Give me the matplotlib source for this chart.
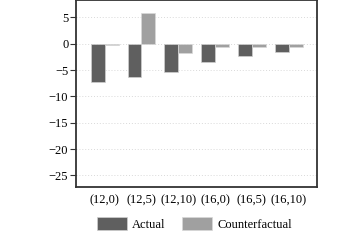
import numpy as np
import matplotlib.pyplot as plt
from matplotlib.patches import Patch

# ================= DATA =================

groups = ["(12,0)", "(12,5)", "(12,10)", "(16,0)", "(16,5)", "(16,10)"]
actual = [-7.3, -6.3, -5.4, -3.4, -2.4, -1.5]
counterfactual = [-0.2, 5.9, -1.75, -0.65, -0.7, -0.65]
yticks = [5, 0, -5, -10, -15, -20, -25]

# ================= STYLE =================

plt.rcParams["font.family"] = ["Liberation Serif", "DejaVu Serif"]
plt.rcParams["font.size"] = 9

dark = "#5f5f5f"
light = "#a0a0a0"
frame = "#333333"

# ================= FIGURE =================

fig = plt.figure(figsize=(3.6, 2.4), dpi=100)
ax = fig.add_axes([76 / 360, 1 - 187 / 240, 241 / 360, 187 / 240])

x = np.arange(len(groups))
w = 0.38

ax.bar(x - w / 2, actual, w, color=dark, edgecolor="#d0d0d0", linewidth=0.5, zorder=3)
ax.bar(x + w / 2, counterfactual, w, color=light, edgecolor="#d8d8d8", linewidth=0.5, zorder=3)

ax.set_xlim(-0.78, 5.77)
ax.set_ylim(-27.2, 8.3)

ax.set_yticks(yticks)
ax.set_yticklabels(["5", "0", "\u22125", "\u221210", "\u221215", "\u221220", "\u221225"])
ax.set_xticks(x)
ax.set_xticklabels(groups)

ax.tick_params(axis="y", length=4, width=0.8, color=frame, pad=1.5)
ax.tick_params(axis="x", length=0, pad=5)

ax.yaxis.grid(True, linestyle=(0, (1, 2)), color="#d9d9d9", linewidth=0.7, zorder=0)

for side in ["left", "bottom", "top", "right"]:
    ax.spines[side].set_color(frame)
    ax.spines[side].set_linewidth(1.3)

handles = [
    Patch(facecolor=dark, edgecolor="#d0d0d0", linewidth=0.5, label="Actual"),
    Patch(facecolor=light, edgecolor="#d8d8d8", linewidth=0.5, label="Counterfactual"),
]
fig.legend(
    handles=handles,
    loc="center",
    bbox_to_anchor=(0.54, 1 - 224 / 240),
    ncol=2,
    frameon=False,
    handlelength=2.4,
    handleheight=1.2,
    handletextpad=0.45,
    columnspacing=1.3,
)

plt.savefig("out.png", dpi=100)
